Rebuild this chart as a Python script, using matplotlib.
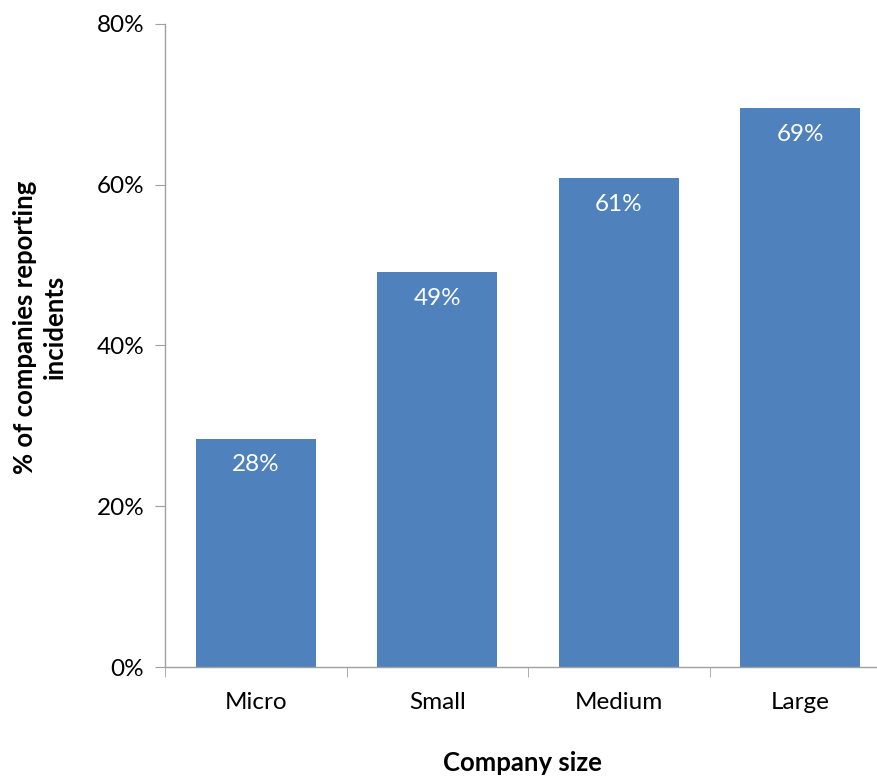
import matplotlib
matplotlib.use("Agg")
import matplotlib.pyplot as plt
import numpy as np

# data
sizes = ["Micro", "Small", "Medium", "Large"]
pct = [28.4, 49.1, 60.8, 69.5]
pct_labels = ["28%", "49%", "61%", "69%"]
yticks = [0, 20, 40, 60, 80]

plt.rcParams['font.family'] = ['Lato', 'DejaVu Sans']

fig = plt.figure(figsize=(8.77, 7.76), dpi=100)
ax = fig.add_axes([165 / 877, 109 / 776, 726 / 877, 643 / 776])

x = np.arange(len(sizes))
bars = ax.bar(x, pct, width=0.66, color='#4F81BD', zorder=2)

for b, lab in zip(bars, pct_labels):
    ax.text(b.get_x() + b.get_width() / 2, b.get_height() - 1.9, lab,
            ha='center', va='top', color='white', fontsize=17.5)

ax.set_xlim(-0.5, 3.5)
ax.set_ylim(0, 80)
ax.set_yticks(yticks)
ax.set_yticklabels([f"{v}%" for v in yticks], fontsize=17.5)
ax.set_xticks(x)
ax.set_xticklabels(sizes, fontsize=17.5)
ax.set_xticks(np.arange(-0.5, 4, 1), minor=True)
ax.tick_params(axis='x', which='major', length=0, pad=18)
ax.tick_params(axis='x', which='minor', length=7, color='#A0A0A0', direction='out')
ax.tick_params(axis='y', length=7, color='#A0A0A0', direction='out', pad=8)

for s in ['top', 'right']:
    ax.spines[s].set_visible(False)
for s in ['left', 'bottom']:
    ax.spines[s].set_color('#A0A0A0')
    ax.spines[s].set_linewidth(1.0)

fig.text(40 / 877, 1 - 327 / 776, "% of companies reporting\nincidents", rotation=90,
         ha='center', va='center', fontsize=18.5, fontweight='bold', linespacing=1.3)
fig.text(522 / 877, 1 - 763 / 776, "Company size", ha='center', va='center',
         fontsize=18.5, fontweight='bold')

fig.savefig("out.png", dpi=100)
